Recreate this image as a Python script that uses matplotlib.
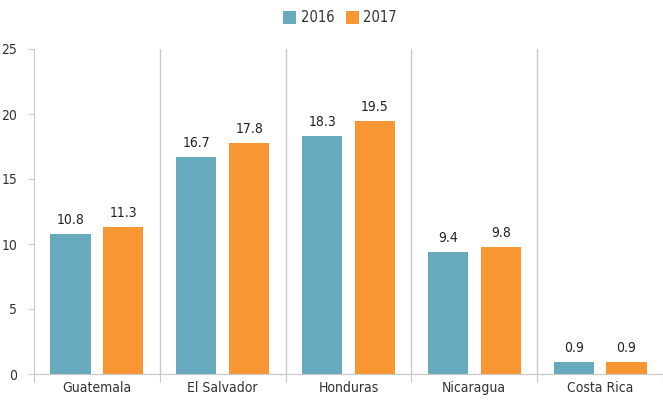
import matplotlib.pyplot as plt
import numpy as np

# Data
countries = ['Guatemala', 'El Salvador', 'Honduras', 'Nicaragua', 'Costa Rica']
values_2016 = [10.8, 16.7, 18.3, 9.4, 0.9]
values_2017 = [11.3, 17.8, 19.5, 9.8, 0.9]

# Condensed look like the reference
plt.rcParams['font.family'] = ['DejaVu Sans']
plt.rcParams['font.stretch'] = 'condensed'

teal = '#67a9bd'
orange = '#f79632'
grid_grey = '#c8c8c8'

fig = plt.figure(figsize=(6.63, 4.0), dpi=100)
ax = fig.add_axes([0.0513, 0.065, 0.9487, 0.8125])

x = np.arange(len(countries))
w = 0.32
off = 0.21
b1 = ax.bar(x - off, values_2016, w, color=teal, label='2016')
b2 = ax.bar(x + off, values_2017, w, color=orange, label='2017')

# Value labels
for bars in (b1, b2):
    for rect in bars:
        h = rect.get_height()
        ax.annotate(f'{h:.1f}', (rect.get_x() + rect.get_width() / 2, h),
                    xytext=(0, 5), textcoords='offset points',
                    ha='center', va='bottom', fontsize=10, color='#222222')

ax.set_xlim(-0.5, len(countries) - 0.5)
ax.set_ylim(0, 25)
ax.set_yticks(range(0, 26, 5))

# Category separators
for s in np.arange(0.5, len(countries) - 0.5, 1):
    ax.axvline(s, color=grid_grey, linewidth=1, zorder=0)

ax.set_xticks(np.arange(-0.5, len(countries) - 0.4, 1), minor=False)
ax.set_xticklabels([])
ax.set_xticks(x, minor=True)
ax.set_xticklabels(countries, minor=True)
ax.tick_params(axis='x', which='minor', length=0, pad=5, labelsize=10, labelcolor='#333333')
ax.tick_params(axis='x', which='major', length=6, color=grid_grey)
ax.tick_params(axis='y', length=4, color=grid_grey, labelsize=10, labelcolor='#333333', pad=8)

for side in ['top', 'right']:
    ax.spines[side].set_visible(False)
for side in ['left', 'bottom']:
    ax.spines[side].set_color(grid_grey)

fig.legend(handles=[b1, b2], loc='center', bbox_to_anchor=(0.513, 0.955), ncol=2,
           frameon=False, fontsize=10.5, handlelength=0.9, handleheight=0.9,
           handletextpad=0.3, columnspacing=0.8, labelcolor='#333333')

plt.savefig('out.png', dpi=100)
